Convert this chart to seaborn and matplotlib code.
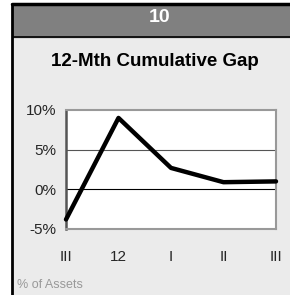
import matplotlib
matplotlib.use("Agg")
import matplotlib.pyplot as plt
import seaborn as sns
import pandas as pd

# data
periods = ["III", "12", "I", "II", "III"]
gap_pct = [-3.8, 9.0, 2.7, 0.9, 1.0]
y_ticks = [-5, 0, 5, 10]
y_labels = ["-5%", "0%", "5%", "10%"]

df = pd.DataFrame({"pos": range(len(periods)), "gap": gap_pct})

sns.set_style("white")
plt.rcParams["font.family"] = ["Liberation Sans", "DejaVu Sans"]

fig = plt.figure(figsize=(2.9, 2.95), dpi=100)
fig.patch.set_facecolor("white")

# panel background, header band and borders
bg = fig.add_axes([12 / 290, 0, 1 - 12 / 290, 1 - 4 / 295])
bg.set_xlim(0, 1)
bg.set_ylim(0, 1)
bg.axis("off")
bg.add_patch(plt.Rectangle((0, 0), 1, 1, color="#ebebeb", transform=bg.transAxes, zorder=0))
hb = (291 - 33) / 291
bg.add_patch(plt.Rectangle((0, hb), 1, 1 - hb, color="#808080", transform=bg.transAxes, zorder=1))
bg.plot([0, 1], [hb, hb], color="black", lw=1.2, transform=bg.transAxes, zorder=2)
bg.plot([0, 1], [1, 1], color="black", lw=2.5, transform=bg.transAxes, zorder=2, clip_on=False)
bg.plot([0, 0], [0, 1], color="black", lw=2, transform=bg.transAxes, zorder=2, clip_on=False)

fig.text(160 / 290, 1 - 18 / 295, "10", color="white", fontsize=14, fontweight="bold",
         ha="center", va="center")
fig.text(155 / 290, 1 - 62 / 295, "12-Mth Cumulative Gap", color="black", fontsize=13.5,
         fontweight="bold", ha="center", va="center")
fig.text(17 / 290, 1 - 285 / 295, "% of Assets", color="#999999", fontsize=9,
         ha="left", va="center")

ax = fig.add_axes([66 / 290, 1 - 229 / 295, 210 / 290, 119 / 295])
ax.set_facecolor("white")
ax.axhline(5, color="#555555", lw=0.8, zorder=1)
ax.axhline(0, color="black", lw=0.8, zorder=1)
sns.lineplot(data=df, x="pos", y="gap", ax=ax, color="black", linewidth=3.2,
             zorder=3, clip_on=False)
ax.set_xlim(0, len(periods) - 1)
ax.set_ylim(-5, 10)
ax.set_yticks(y_ticks)
ax.set_yticklabels(y_labels, fontsize=11)
ax.set_xticks(range(len(periods)))
ax.set_xticklabels(periods, fontsize=11)
ax.tick_params(axis="x", length=0, pad=15)
ax.tick_params(axis="y", length=5, width=0.8, color="#555555", pad=2)
ax.set_xlabel("")
ax.set_ylabel("")
for side in ["top", "right", "bottom"]:
    ax.spines[side].set_color("#999999")
    ax.spines[side].set_linewidth(1.5)
ax.spines["left"].set_color("#555555")
ax.spines["left"].set_linewidth(1.8)

fig.savefig("out.png", dpi=100)
